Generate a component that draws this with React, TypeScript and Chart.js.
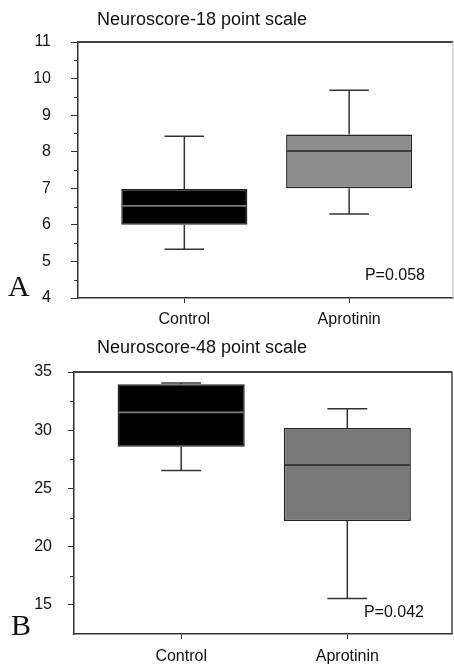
import React, { useEffect, useRef } from "react";
import { Chart, registerables } from "chart.js";

Chart.register(...registerables);

// ---------- data ----------
const categories = ["Control", "Aprotinin"];
const positions = [1, 2];

// Panel A: Neuroscore-18 point scale
const aTitle = "Neuroscore-18 point scale";
const aMin = [5.33, 6.3];
const aQ1 = [6.0, 7.0];
const aMedian = [6.52, 8.02];
const aQ3 = [6.98, 8.47];
const aMax = [8.42, 9.68];
const aTicks = [4, 5, 6, 7, 8, 9, 10, 11];
const aMinorTicks = [4.5, 5.5, 6.5, 7.5, 8.5, 9.5, 10.5];
const aP = "P=0.058";

// Panel B: Neuroscore-48 point scale
const bTitle = "Neuroscore-48 point scale";
const bMin = [26.55, 15.55];
const bQ1 = [28.58, 22.2];
const bMedian = [31.53, 27.01];
const bQ3 = [33.95, 30.19];
const bMax = [34.06, 31.85];
const bTicks = [15, 20, 25, 30, 35];
const bMinorTicks = [17.5, 22.5, 27.5, 32.5];
const bP = "P=0.042";

const SANS = "'Liberation Sans', Arial, Helvetica, sans-serif";
const SERIF = "'Liberation Serif', 'Times New Roman', serif";

type Panel = {
  title: string;
  letter: string;
  pText: string;
  min: number[];
  q1: number[];
  median: number[];
  q3: number[];
  max: number[];
  yMin: number;
  yMax: number;
  ticks: number[];
  minorTicks: number[];
  fills: string[];
  medianColors: string[];
  width: number;
  height: number;
  padTop: number;
  padRight: number;
  yWidth: number;
  xHeight: number;
  yTickLen: number;
  yPad: number;
  xPad: number;
  titleY: number;
  letterX: number;
  letterY: number;
  pRight: number;
  pY: number;
  rightBorderColor: string;
};

const boxExtras = {
  id: "boxExtras",
  afterDatasetsDraw(chart: any, _args: any, opts: any) {
    const { ctx, scales } = chart;
    const x = scales.x;
    const y = scales.y;
    const meta = chart.getDatasetMeta(0);
    ctx.save();
    const unit = Math.abs(x.getPixelForValue(2) - x.getPixelForValue(1));
    const capHalf = unit * 0.12;
    for (let i = 0; i < opts.positions.length; i++) {
      const cx = x.getPixelForValue(opts.positions[i]);
      const bar = meta.data[i];
      const half = bar.width / 2;
      // whiskers
      ctx.strokeStyle = "#333";
      ctx.lineWidth = 1.5;
      ctx.beginPath();
      ctx.moveTo(cx, y.getPixelForValue(opts.q3[i]));
      ctx.lineTo(cx, y.getPixelForValue(opts.max[i]));
      ctx.moveTo(cx, y.getPixelForValue(opts.q1[i]));
      ctx.lineTo(cx, y.getPixelForValue(opts.min[i]));
      const yMaxP = y.getPixelForValue(opts.max[i]);
      const yMinP = y.getPixelForValue(opts.min[i]);
      ctx.moveTo(cx - capHalf, yMaxP);
      ctx.lineTo(cx + capHalf, yMaxP);
      ctx.moveTo(cx - capHalf, yMinP);
      ctx.lineTo(cx + capHalf, yMinP);
      ctx.stroke();
      // median
      const my = y.getPixelForValue(opts.median[i]);
      ctx.strokeStyle = opts.medianColors[i];
      ctx.lineWidth = 1.6;
      ctx.beginPath();
      ctx.moveTo(cx - half + 1, my);
      ctx.lineTo(cx + half - 1, my);
      ctx.stroke();
    }
    ctx.restore();
  },
  afterDraw(chart: any, _args: any, opts: any) {
    const { ctx, chartArea, scales } = chart;
    const y = scales.y;
    ctx.save();
    // frame top + right
    ctx.strokeStyle = "#444";
    ctx.lineWidth = 2;
    ctx.beginPath();
    ctx.moveTo(chartArea.left, chartArea.top);
    ctx.lineTo(chartArea.right, chartArea.top);
    ctx.stroke();
    ctx.strokeStyle = opts.rightBorderColor;
    ctx.lineWidth = 1.5;
    ctx.beginPath();
    ctx.moveTo(chartArea.right, chartArea.top);
    ctx.lineTo(chartArea.right, chartArea.bottom);
    ctx.stroke();
    // minor ticks
    ctx.strokeStyle = "#333";
    ctx.lineWidth = 1;
    ctx.beginPath();
    for (const v of opts.minorTicks) {
      const py = Math.round(y.getPixelForValue(v)) + 0.5;
      ctx.moveTo(chartArea.left - 4, py);
      ctx.lineTo(chartArea.left, py);
    }
    ctx.stroke();
    // texts
    ctx.fillStyle = "#111";
    ctx.textBaseline = "alphabetic";
    ctx.textAlign = "left";
    ctx.font = `18px ${SANS}`;
    ctx.fillText(opts.title, 97, opts.titleY);
    ctx.font = `30px ${SERIF}`;
    ctx.fillText(opts.letter, opts.letterX, opts.letterY);
    ctx.font = `16px ${SANS}`;
    ctx.textAlign = "right";
    ctx.fillText(opts.pText, chartArea.right - opts.pRight, opts.pY);
    ctx.restore();
  },
};

function BoxChart({ p }: { p: Panel }) {
  const ref = useRef<HTMLCanvasElement | null>(null);
  useEffect(() => {
    if (!ref.current) return;
    const chart = new Chart(ref.current, {
      type: "bar",
      data: {
        datasets: [
          {
            data: positions.map((pos, i) => ({ x: pos, y: [p.q1[i], p.q3[i]] })) as any,
            backgroundColor: p.fills,
            borderColor: "#222",
            borderWidth: 1.5,
            borderSkipped: false,
            barPercentage: 0.765,
            categoryPercentage: 1,
          },
        ],
      },
      options: {
        responsive: false,
        animation: false,
        events: [],
        layout: { padding: { top: p.padTop, right: p.padRight, left: 0, bottom: 0 } },
        plugins: {
          legend: { display: false },
          tooltip: { enabled: false },
          title: { display: false },
          boxExtras: { ...p, positions },
        } as any,
        scales: {
          x: {
            type: "linear",
            min: 0.355,
            max: 2.63,
            offset: false,
            afterBuildTicks: (s: any) => {
              s.ticks = positions.map((v) => ({ value: v }));
            },
            afterFit: (s: any) => {
              s.height = p.xHeight;
            },
            ticks: {
              callback: (v: any) => categories[positions.indexOf(Number(v))] ?? "",
              font: { family: SANS, size: 16 },
              color: "#111",
              padding: p.xPad,
              maxRotation: 0,
              autoSkip: false,
            },
            grid: {
              drawOnChartArea: false,
              drawTicks: true,
              tickLength: 5,
              color: "#333",
              offset: false,
            },
            border: { display: true, color: "#333", width: 1.5 },
          },
          y: {
            type: "linear",
            min: p.yMin,
            max: p.yMax,
            afterBuildTicks: (s: any) => {
              s.ticks = p.ticks.map((v) => ({ value: v }));
            },
            afterFit: (s: any) => {
              s.width = p.yWidth;
            },
            ticks: {
              font: { family: SANS, size: 16 },
              color: "#111",
              padding: p.yPad,
            },
            grid: {
              drawOnChartArea: false,
              drawTicks: true,
              tickLength: p.yTickLen,
              color: "#333",
            },
            border: { display: true, color: "#333", width: 1.5 },
          },
        },
      },
      plugins: [boxExtras as any],
    });
    return () => chart.destroy();
  }, [p]);
  return (
    <canvas
      ref={ref}
      width={p.width}
      height={p.height}
      style={{ display: "block", width: p.width, height: p.height }}
    />
  );
}

const panelA: Panel = {
  title: aTitle,
  letter: "A",
  pText: aP,
  min: aMin,
  q1: aQ1,
  median: aMedian,
  q3: aQ3,
  max: aMax,
  yMin: 4,
  yMax: 11,
  ticks: aTicks,
  minorTicks: aMinorTicks,
  fills: ["#000000", "#8c8c8c"],
  medianColors: ["#7a7a7a", "#222222"],
  width: 454,
  height: 335,
  padTop: 42,
  padRight: 1,
  yWidth: 78,
  xHeight: 37,
  yTickLen: 7,
  yPad: 20,
  xPad: 7,
  titleY: 25,
  letterX: 8,
  letterY: 296,
  pRight: 28,
  pY: 280,
  rightBorderColor: "#cfcfcf",
};

const panelB: Panel = {
  title: bTitle,
  letter: "B",
  pText: bP,
  min: bMin,
  q1: bQ1,
  median: bMedian,
  q3: bQ3,
  max: bMax,
  yMin: 12.5,
  yMax: 35,
  ticks: bTicks,
  minorTicks: bMinorTicks,
  fills: ["#000000", "#787878"],
  medianColors: ["#7a7a7a", "#222222"],
  width: 454,
  height: 330,
  padTop: 37,
  padRight: 2,
  yWidth: 74,
  xHeight: 31,
  yTickLen: 6,
  yPad: 16,
  xPad: 8,
  titleY: 18,
  letterX: 11,
  letterY: 300,
  pRight: 28,
  pY: 282,
  rightBorderColor: "#444",
};

export default function App() {
  return (
    <div style={{ position: "absolute", left: 0, top: 0, width: 454, height: 665, background: "#fff" }}>
      <BoxChart p={panelA} />
      <BoxChart p={panelB} />
    </div>
  );
}
